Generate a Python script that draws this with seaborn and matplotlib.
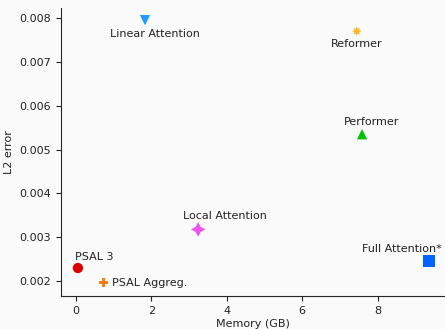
import matplotlib
matplotlib.use("Agg")
import matplotlib.pyplot as plt
import pandas as pd
import seaborn as sns

models = ["Linear Attention", "Reformer", "Performer", "Local Attention",
          "Full Attention*", "PSAL 3", "PSAL Aggreg."]
memory_gb = [1.83, 7.45, 7.59, 3.24, 9.36, 0.05, 0.72]
l2_error = [0.00795, 0.00770, 0.00535, 0.00318, 0.00246, 0.00230, 0.00197]

colors = ["#1e9bff", "#ffb81c", "#00c000", "#ee55ee", "#0066ff", "#dd0000", "#ff7f0e"]
markers = ["v", (8, 1, 0), "^", (4, 1, 0), "s", "o", "P"]
marker_sizes = [55, 50, 55, 110, 70, 55, 45]
# label offsets in points: (dx, dy, ha, va)
label_pos = [(7, -6, "center", "top"), (0, -6, "center", "top"),
             (7, 5, "center", "bottom"), (19, 6, "center", "bottom"),
             (9, 5, "right", "bottom"), (-2, 4, "left", "bottom"),
             (6, 0, "left", "center")]

df = pd.DataFrame({"model": models, "memory": memory_gb, "l2": l2_error})

sns.set_style("ticks")
plt.rcParams["font.family"] = ["DejaVu Sans"]

fig = plt.figure(figsize=(4.45, 3.29), dpi=100, facecolor="#fafafa")
ax = fig.add_axes([0.137, 0.10, 0.863, 0.876])
ax.set_facecolor("#fafafa")

sns.scatterplot(data=df, x="memory", y="l2", hue="model", style="model", size="model",
                palette=dict(zip(models, colors)), markers=dict(zip(models, markers)),
                sizes=dict(zip(models, marker_sizes)),
                linewidth=0, legend=False, ax=ax)

for m, x, y, (dx, dy, ha, va) in zip(models, memory_gb, l2_error, label_pos):
    ax.annotate(m, (x, y), xytext=(dx, dy), textcoords="offset points",
                ha=ha, va=va, fontsize=8, color="#222222")

ax.set_xlim(-0.4, 9.79)
ax.set_ylim(0.00166, 0.00823)
ax.set_xticks([0, 2, 4, 6, 8])
ax.set_yticks([0.002, 0.003, 0.004, 0.005, 0.006, 0.007, 0.008])
ax.tick_params(labelsize=8, colors="#222222")
ax.set_xlabel("Memory (GB)", fontsize=8, color="#222222", labelpad=2)
ax.set_ylabel("L2 error", fontsize=8, color="#222222")
sns.despine(ax=ax)

fig.savefig("out.png", dpi=100, facecolor=fig.get_facecolor())
